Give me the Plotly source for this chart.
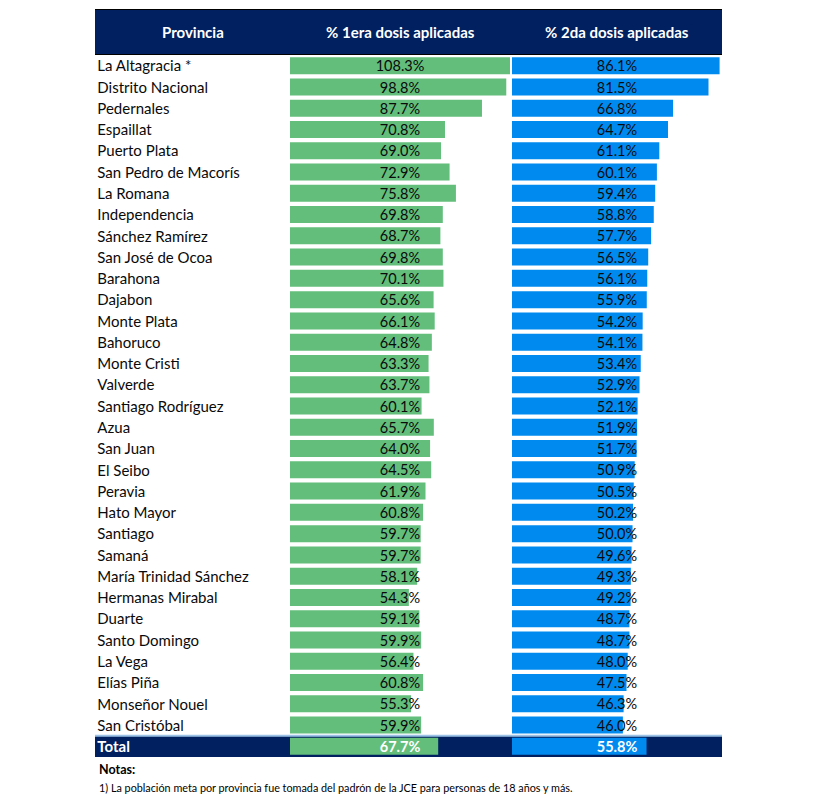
import plotly.graph_objects as go

provincias = ["La Altagracia *", "Distrito Nacional", "Pedernales", "Espaillat", "Puerto Plata",
              "San Pedro de Macorís", "La Romana", "Independencia", "Sánchez Ramírez", "San José de Ocoa",
              "Barahona", "Dajabon", "Monte Plata", "Bahoruco", "Monte Cristi", "Valverde",
              "Santiago Rodríguez", "Azua", "San Juan", "El Seibo", "Peravia", "Hato Mayor", "Santiago",
              "Samaná", "María Trinidad Sánchez", "Hermanas Mirabal", "Duarte", "Santo Domingo",
              "La Vega", "Elías Piña", "Monseñor Nouel", "San Cristóbal"]
dosis1 = [108.3, 98.8, 87.7, 70.8, 69.0, 72.9, 75.8, 69.8, 68.7, 69.8, 70.1, 65.6, 66.1, 64.8, 63.3,
          63.7, 60.1, 65.7, 64.0, 64.5, 61.9, 60.8, 59.7, 59.7, 58.1, 54.3, 59.1, 59.9, 56.4, 60.8,
          55.3, 59.9]
dosis2 = [86.1, 81.5, 66.8, 64.7, 61.1, 60.1, 59.4, 58.8, 57.7, 56.5, 56.1, 55.9, 54.2, 54.1, 53.4,
          52.9, 52.1, 51.9, 51.7, 50.9, 50.5, 50.2, 50.0, 49.6, 49.3, 49.2, 48.7, 48.7, 48.0, 47.5,
          46.3, 46.0]
total_label = "Total"
total1 = 67.7
total2 = 55.8
headers = ["Provincia", "% 1era dosis aplicadas", "% 2da dosis aplicadas"]
nota_titulo = "Notas:"
nota_1 = "1) La población meta por provincia fue tomada del padrón de la JCE para personas de 18 años y más."

# the page places the figure 8px from the top-left corner of the window
OFF = 8
W, H = 814 - OFF, 795 - OFF
def px(x):
    return (x - OFF) / W
def py(y):
    return 1 - (y - OFF) / H

NAVY = "#002060"
GREEN = "#63BE7B"
BLUE = "#008AEF"
FONT = "Lato"
TXT = "#0a0a0a"
TEXT_DROP = 2  # text sits slightly low in its cell

rows = provincias + [total_label]
v1 = dosis1 + [total1]
v2 = dosis2 + [total2]
n = len(rows)

R1 = [0, 100.5]
R2 = [0, 87.1]
mid1 = (R1[0] + R1[1]) / 2
mid2 = (R2[0] + R2[1]) / 2

def fmt(v, total=False):
    s = f"{v:.1f}%"
    return f"<b>{s}</b>" if total else s

colors = [TXT] * (n - 1) + ["white"]
lab1 = [fmt(v, i == n - 1) for i, v in enumerate(v1)]
lab2 = [fmt(v, i == n - 1) for i, v in enumerate(v2)]
names = rows[:-1] + [f"<b>{total_label}</b>"]

fig = go.Figure()
fig.add_trace(go.Bar(x=v1, y=rows, orientation="h", marker=dict(color=GREEN, line_width=0),
                     width=0.8, xaxis="x", yaxis="y", hoverinfo="skip"))
fig.add_trace(go.Bar(x=v2, y=rows, orientation="h", marker=dict(color=BLUE, line_width=0),
                     width=0.8, xaxis="x2", yaxis="y", hoverinfo="skip"))
fig.add_trace(go.Scatter(x=[mid1] * n, y=rows, mode="text", text=lab1,
                         textfont=dict(family=FONT, size=14.5, color=colors),
                         textposition="middle center", xaxis="x", yaxis="y2", hoverinfo="skip",
                         cliponaxis=False))
fig.add_trace(go.Scatter(x=[mid2] * n, y=rows, mode="text", text=lab2,
                         textfont=dict(family=FONT, size=14.5, color=colors),
                         textposition="middle center", xaxis="x2", yaxis="y2", hoverinfo="skip",
                         cliponaxis=False))
fig.add_trace(go.Scatter(x=[0.012] * n, y=rows, mode="text", text=names,
                         textfont=dict(family=FONT, size=15, color=colors),
                         textposition="middle right", xaxis="x3", yaxis="y2", hoverinfo="skip",
                         cliponaxis=False))

shapes = []
# header band
shapes.append(dict(type="rect", xref="paper", yref="paper", x0=px(95), x1=px(722), y0=py(55), y1=py(9),
                   fillcolor=NAVY, line_width=0, layer="below"))
shapes.append(dict(type="line", xref="paper", yref="paper", x0=px(95), x1=px(722), y0=py(9.5), y1=py(9.5),
                   line=dict(color="#000000", width=1)))
shapes.append(dict(type="line", xref="paper", yref="paper", x0=px(95), x1=px(722), y0=py(54.5), y1=py(54.5),
                   line=dict(color="#000000", width=1.2)))
# total band
shapes.append(dict(type="rect", xref="paper", yref="y", x0=px(95), x1=px(722), y0=n - 1 - 0.5, y1=n - 1 + 0.5,
                   fillcolor=NAVY, line_width=0, layer="below"))
shapes.append(dict(type="line", xref="paper", yref="y", x0=px(95), x1=px(722), y0=n - 1.5, y1=n - 1.5,
                   line=dict(color="#9DC3E6", width=2)))
# page decoration
shapes.append(dict(type="line", xref="paper", yref="paper", x0=px(809), x1=px(809), y0=0, y1=1,
                   line=dict(color="#e6e6e6", width=1)))

annotations = []
for ax, h in zip(["x3", "x", "x2"], headers):
    annotations.append(dict(xref=f"{ax} domain", yref="paper", x=0.5, y=py(32), text=f"<b>{h}</b>",
                            showarrow=False, font=dict(family=FONT, size=15, color="white"),
                            xanchor="center", yanchor="middle"))
annotations.append(dict(xref="paper", yref="paper", x=px(97), y=py(769), text=f"<b>{nota_titulo}</b>",
                        showarrow=False, font=dict(family=FONT, size=12.5, color="#000000"),
                        xanchor="left", yanchor="middle"))
annotations.append(dict(xref="paper", yref="paper", x=px(97), y=py(787), text=nota_1,
                        showarrow=False, font=dict(family=FONT, size=10.8, color="#000000"),
                        xanchor="left", yanchor="middle"))

ydom = [py(757), py(55)]
ydom2 = [py(757 + TEXT_DROP), py(55 + TEXT_DROP)]
ycommon = dict(type="category", categoryorder="array", categoryarray=rows,
               range=[n - 0.5, -0.5], visible=False, fixedrange=True)

fig.update_layout(
    width=W, height=H, margin=dict(l=0, r=0, t=0, b=0),
    paper_bgcolor="white", plot_bgcolor="rgba(0,0,0,0)",
    showlegend=False, barmode="overlay",
    xaxis=dict(domain=[px(290), px(510)], range=R1, visible=False, fixedrange=True),
    xaxis2=dict(domain=[px(512), px(722)], range=R2, visible=False, fixedrange=True),
    xaxis3=dict(domain=[px(95), px(290)], range=[0, 1], visible=False, fixedrange=True),
    yaxis=dict(domain=ydom, **ycommon),
    yaxis2=dict(domain=ydom2, **ycommon),
    shapes=shapes, annotations=annotations,
)
fig.write_html("out.html")
